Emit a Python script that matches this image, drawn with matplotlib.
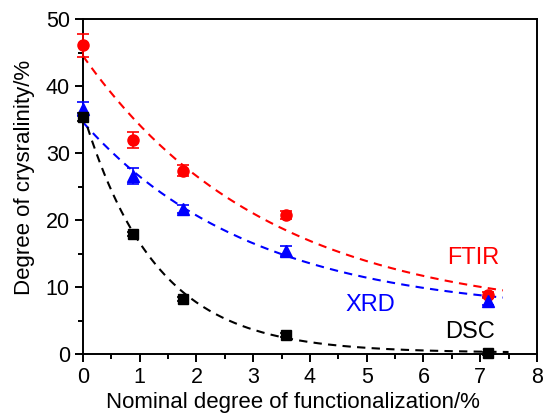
import numpy as np
import matplotlib.pyplot as plt
from matplotlib.ticker import MultipleLocator

plt.rcParams['font.family'] = ['Liberation Sans', 'DejaVu Sans']

x_pts = [0, 0.88, 1.77, 3.57, 7.13]

ftir = [46.1, 32.0, 27.4, 20.8, 8.8]
ftir_err = [1.7, 1.2, 0.8, 0.6, 0.5]
xrd = [36.6, 26.6, 21.6, 15.4, 7.9]
xrd_err = [1.0, 1.2, 0.6, 0.8, 0.6]
dsc = [35.4, 17.9, 8.2, 2.8, 0.1]
dsc_err = [0.6, 0.3, 0.3, 0.3, 0.2]

# exponential decay fits y = y0 + A*exp(-x/t): [y0, A, t, x_end]
ftir_fit = [5.5, 39.0, 3.25, 7.4]
xrd_fit = [6.0, 28.6, 3.0, 7.4]
dsc_fit = [0.2, 35.8, 1.28, 7.5]


def fit_curve(p):
    xx = np.linspace(0, p[3], 200)
    return xx, p[0] + p[1] * np.exp(-xx / p[2])


fig = plt.figure(figsize=(5.44, 4.16), dpi=100)
ax = fig.add_axes([0.1526, 0.149, 0.8344, 0.805])

for fit, c in [(ftir_fit, 'red'), (xrd_fit, 'blue'), (dsc_fit, 'black')]:
    xx, yy = fit_curve(fit)
    ax.plot(xx, yy, '--', color=c, lw=1.5, dashes=(4, 3))

ax.errorbar(x_pts, ftir, yerr=ftir_err, fmt='o', color='red', ms=8,
            capsize=4, elinewidth=1.2, capthick=1.2, clip_on=False, zorder=3)
ax.errorbar(x_pts, xrd, yerr=xrd_err, fmt='^', color='blue', ms=8,
            capsize=4, elinewidth=1.2, capthick=1.2, clip_on=False, zorder=3)
ax.errorbar(x_pts, dsc, yerr=dsc_err, fmt='s', color='black', ms=7,
            capsize=4, elinewidth=1.2, capthick=1.2, clip_on=False, zorder=3)

ax.text(7.33, 14.3, 'FTIR', color='red', fontsize=17, ha='right', va='center')
ax.text(5.06, 7.3, 'XRD', color='blue', fontsize=17, ha='center', va='center')
ax.text(6.82, 3.3, 'DSC', color='black', fontsize=17, ha='center', va='center')

ax.set_xlim(0, 8)
ax.set_ylim(0, 50)
ax.xaxis.set_major_locator(MultipleLocator(1))
ax.xaxis.set_minor_locator(MultipleLocator(0.5))
ax.yaxis.set_major_locator(MultipleLocator(10))
ax.yaxis.set_minor_locator(MultipleLocator(5))
ax.tick_params(which='major', direction='out', length=6, width=1.4, labelsize=15.5)
ax.tick_params(which='minor', direction='out', length=3.5, width=1.4)
for s in ax.spines.values():
    s.set_linewidth(1.4)

ax.set_xlabel('Nominal degree of functionalization/%', fontsize=16, labelpad=3)
ax.set_ylabel('Degree of crysralinity/%', fontsize=16, labelpad=8)
ax.xaxis.label.set_x(0.463)
ax.yaxis.label.set_y(0.528)

fig.savefig('out.png', dpi=100)
